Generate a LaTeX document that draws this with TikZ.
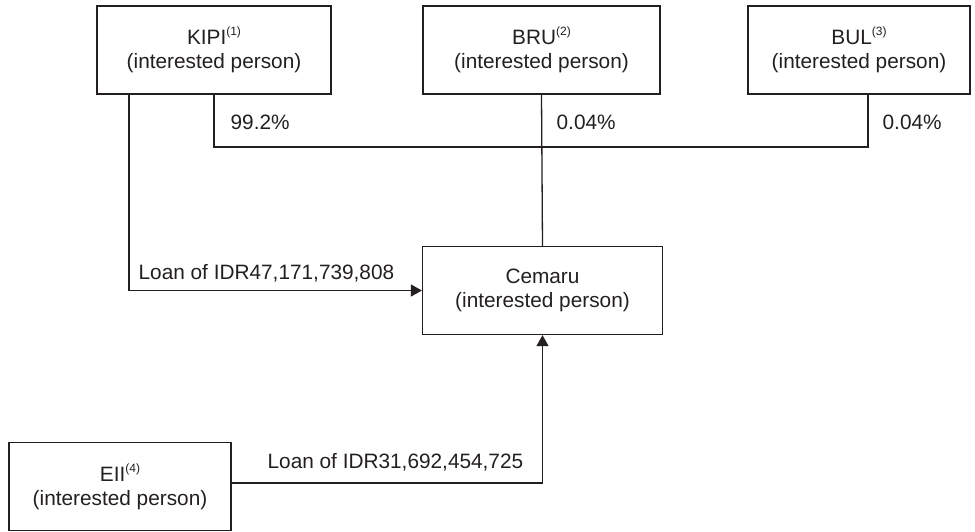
\documentclass[tikz,border=0pt]{standalone}
\usepackage{fontspec}
\setmainfont{Liberation Sans}
\usetikzlibrary{arrows.meta}
\definecolor{ink}{RGB}{35,31,32}
\newcommand{\fnmark}[1]{\raisebox{0.45em}{\fontsize{6}{6}\selectfont(#1)}}
\begin{document}
\begin{tikzpicture}[x=0.5pt,y=-0.5pt,ink,line width=0.65pt,
	every node/.style={font=\fontsize{10.4}{12}\selectfont,text=ink},
	party/.style={draw,align=center,inner sep=0pt,minimum height=44pt},
	share/.style={anchor=west,inner sep=0pt},
	loan/.style={-{Triangle[length=5.5pt,width=6pt]}}]
	\useasboundingbox (0,0) rectangle (975,531);

	\node[party,minimum width=117pt] at (214,50) (kipi) {KIPI\fnmark{1}\\(interested person)};
	\node[party,minimum width=118.5pt] at (541.5,50) (bru) {BRU\fnmark{2}\\(interested person)};
	\node[party,minimum width=111pt] at (859,50) (bul) {BUL\fnmark{3}\\(interested person)};
	\node[party,minimum width=120pt] at (542.5,290.5) (cemaru) {Cemaru\\(interested person)};
	\node[party,minimum width=111pt] at (120,486.5) (eii) {EII\fnmark{4}\\(interested person)};

	\node[share] at (230,122) (kipishare) {99.2\%};
	\node[share] at (556,122) (brushare) {0.04\%};
	\node[share] at (882,122) (bulshare) {0.04\%};
	\node[share] at (138,273) (kipiloan) {Loan of IDR47,171,739,808};
	\node[share] at (267,462) (eiiloan) {Loan of IDR31,692,454,725};

	\coordinate (bar) at (541.5,147);

	\draw		(kipi.south) |- (bar) -| ([xshift=4.5pt]bul.south);
	\draw		(bru.south) -- (cemaru.north);
	\draw[loan]	([xshift=-42.5pt]kipi.south) |- (cemaru.west);
	\draw[loan]	([yshift=1.75pt]eii.east) -| (cemaru.south);
\end{tikzpicture}
\end{document}
